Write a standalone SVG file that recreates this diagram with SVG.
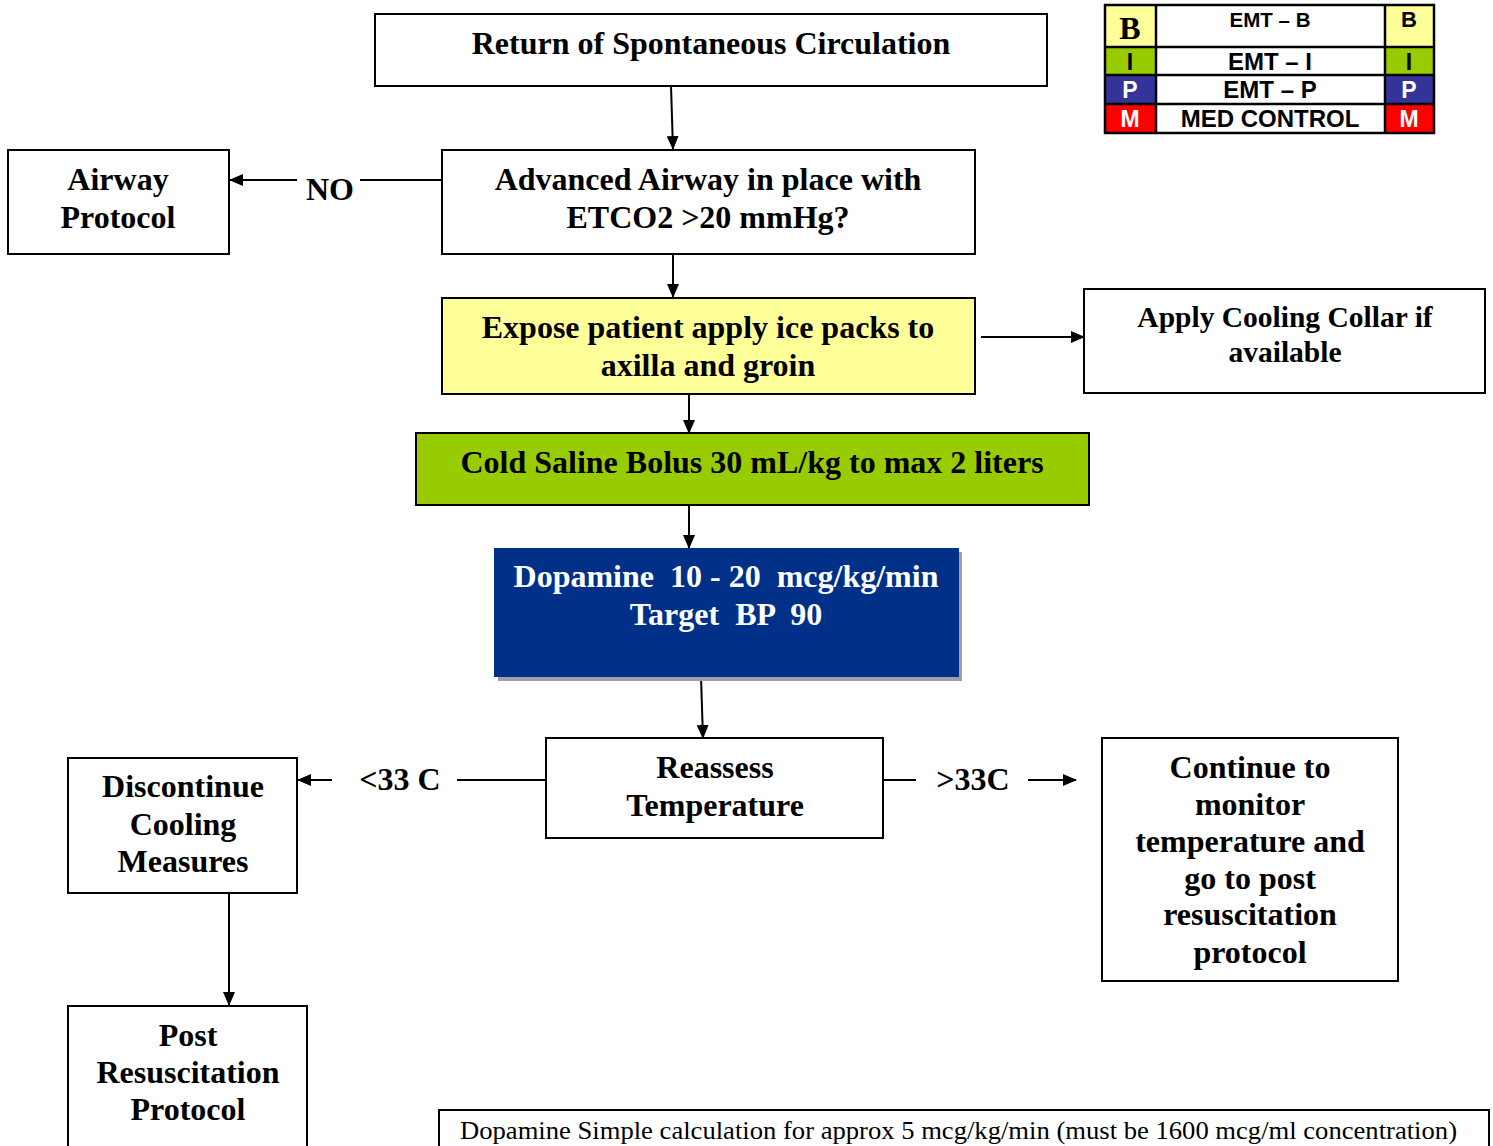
<svg xmlns="http://www.w3.org/2000/svg" width="1493" height="1146" viewBox="0 0 1493 1146">
<style>
.box{fill:#fff;stroke:#000;stroke-width:2}
.t{font-family:"Liberation Serif",serif;font-weight:bold;font-size:32px;fill:#000;text-anchor:middle}
.lg{font-family:"Liberation Sans",sans-serif;font-weight:bold;fill:#000;text-anchor:middle}
.c{stroke:#000;stroke-width:2;fill:none}
</style>
<defs>
<marker id="ah" markerWidth="14" markerHeight="12" refX="13" refY="6" orient="auto" markerUnits="userSpaceOnUse" viewBox="0 0 14 12">
<path d="M0,0 L14,6 L0,12 z" fill="#000"/>
</marker>
</defs>
<rect width="1493" height="1146" fill="#fff"/>

<g id="legend">
<rect x="1104" y="4" width="52" height="43" fill="#FFFF99"/>
<rect x="1385" y="4" width="49" height="43" fill="#FFFF99"/>
<rect x="1104" y="47" width="52" height="28" fill="#99CC00"/>
<rect x="1385" y="47" width="49" height="28" fill="#99CC00"/>
<rect x="1104" y="75" width="52" height="29" fill="#333399"/>
<rect x="1385" y="75" width="49" height="29" fill="#333399"/>
<rect x="1104" y="104" width="52" height="29" fill="#FF0000"/>
<rect x="1385" y="104" width="49" height="29" fill="#FF0000"/>
<rect x="1105" y="5" width="329" height="128" fill="none" stroke="#000" stroke-width="2.5"/>
<path d="M1156,5 V133 M1385,5 V133 M1105,47 H1434 M1105,75 H1434 M1105,104 H1434" stroke="#000" stroke-width="2.5" fill="none"/>
<text x="1130" y="39" style="font-family:'Liberation Serif',serif;font-weight:bold;font-size:32px;text-anchor:middle">B</text>
<text x="1270" y="27" class="lg" font-size="20.5">EMT – B</text>
<text x="1409" y="27" class="lg" font-size="22">B</text>
<text x="1130" y="70" class="lg" font-size="23">I</text>
<text x="1270" y="70" class="lg" font-size="24">EMT – I</text>
<text x="1409" y="70" class="lg" font-size="23">I</text>
<text x="1130" y="98" class="lg" font-size="23" style="fill:#fff">P</text>
<text x="1270" y="98" class="lg" font-size="24">EMT – P</text>
<text x="1409" y="98" class="lg" font-size="23" style="fill:#fff">P</text>
<text x="1130" y="127" class="lg" font-size="23" style="fill:#fff">M</text>
<text x="1270" y="127" class="lg" font-size="24">MED CONTROL</text>
<text x="1409" y="127" class="lg" font-size="23" style="fill:#fff">M</text>
</g>

<g id="connectors">
<line class="c" x1="671" y1="86" x2="673" y2="149" marker-end="url(#ah)"/>
<line class="c" x1="442" y1="180" x2="360" y2="180"/>
<line class="c" x1="297" y1="180" x2="230" y2="180" marker-end="url(#ah)"/>
<text x="330" y="200" class="t">NO</text>
<line class="c" x1="673" y1="254" x2="673" y2="297" marker-end="url(#ah)"/>
<line class="c" x1="981" y1="337" x2="1084" y2="337" marker-end="url(#ah)"/>
<line class="c" x1="689" y1="394" x2="689" y2="433" marker-end="url(#ah)"/>
<line class="c" x1="689" y1="505" x2="689" y2="548" marker-end="url(#ah)"/>
<line class="c" x1="701" y1="677" x2="703" y2="738" marker-end="url(#ah)"/>
<line class="c" x1="546" y1="780" x2="457" y2="780"/>
<text x="400" y="790" class="t">&lt;33 C</text>
<line class="c" x1="332" y1="780" x2="298" y2="780" marker-end="url(#ah)"/>
<line class="c" x1="883" y1="780" x2="916" y2="780"/>
<text x="973" y="790" class="t">&gt;33C</text>
<line class="c" x1="1028" y1="780" x2="1076" y2="780" marker-end="url(#ah)"/>
<line class="c" x1="229" y1="893" x2="229" y2="1005" marker-end="url(#ah)"/>
</g>

<g id="rosc">
<rect class="box" x="375" y="14" width="672" height="72"/>
<text x="711" y="54" class="t">Return of Spontaneous Circulation</text>
</g>

<g id="airway-protocol">
<rect class="box" x="8" y="150" width="221" height="104"/>
<text x="118" y="190" class="t">Airway</text>
<text x="118" y="228" class="t">Protocol</text>
</g>

<g id="advanced-airway">
<rect class="box" x="442" y="150" width="533" height="104"/>
<text x="708" y="190" class="t">Advanced Airway in place with</text>
<text x="708" y="228" class="t">ETCO2 &gt;20 mmHg?</text>
</g>

<g id="expose">
<rect class="box" x="442" y="298" width="533" height="96" style="fill:#FFFF99"/>
<text x="708" y="338" class="t">Expose patient apply ice packs to</text>
<text x="708" y="376" class="t">axilla and groin</text>
</g>

<g id="cooling-collar">
<rect class="box" x="1084" y="289" width="401" height="104"/>
<text x="1285" y="327" class="t" style="font-size:29.5px">Apply Cooling Collar if</text>
<text x="1285" y="362" class="t" style="font-size:29.5px">available</text>
</g>

<g id="cold-saline">
<rect class="box" x="416" y="433" width="673" height="72" style="fill:#99CC00"/>
<text x="752" y="473" class="t">Cold Saline Bolus 30 mL/kg to max 2 liters</text>
</g>

<g id="dopamine">
<rect x="498" y="552" width="464" height="129" fill="#A39DAB"/>
<rect x="494" y="548" width="465" height="129" fill="#003087"/>
<text x="726" y="587" class="t" style="fill:#fff" xml:space="preserve">Dopamine  10 - 20  mcg/kg/min</text>
<text x="726" y="625" class="t" style="fill:#fff" xml:space="preserve">Target  BP  90</text>
</g>

<g id="reassess">
<rect class="box" x="546" y="738" width="337" height="100"/>
<text x="715" y="778" class="t">Reassess</text>
<text x="715" y="816" class="t">Temperature</text>
</g>

<g id="discontinue">
<rect class="box" x="68" y="758" width="229" height="135"/>
<text x="183" y="797" class="t">Discontinue</text>
<text x="183" y="835" class="t">Cooling</text>
<text x="183" y="872" class="t">Measures</text>
</g>

<g id="continue">
<rect class="box" x="1102" y="738" width="296" height="243"/>
<text x="1250" y="778" class="t">Continue to</text>
<text x="1250" y="815" class="t">monitor</text>
<text x="1250" y="852" class="t">temperature and</text>
<text x="1250" y="889" class="t">go to post</text>
<text x="1250" y="925" class="t">resuscitation</text>
<text x="1250" y="963" class="t">protocol</text>
</g>

<g id="post-resuscitation">
<rect class="box" x="68" y="1006" width="239" height="150"/>
<text x="188" y="1046" class="t">Post</text>
<text x="188" y="1083" class="t">Resuscitation</text>
<text x="188" y="1120" class="t">Protocol</text>
</g>

<g id="dopamine-note">
<rect class="box" x="439" y="1110" width="1050" height="60"/>
<text x="460" y="1139" textLength="997" lengthAdjust="spacingAndGlyphs" style="font-family:'Liberation Serif',serif;font-size:25px">Dopamine Simple calculation for approx 5 mcg/kg/min (must be 1600 mcg/ml concentration)</text>
</g>
</svg>
